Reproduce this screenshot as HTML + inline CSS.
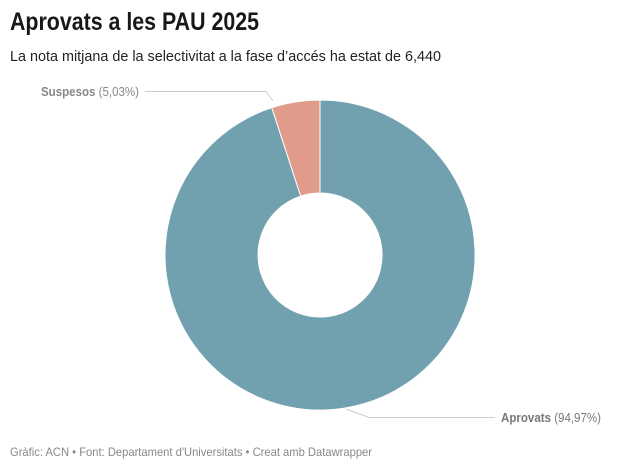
<!DOCTYPE html>
<html><head><meta charset="utf-8"><style>
html,body{margin:0;padding:0;background:#fff;width:640px;height:469px;overflow:hidden}
svg{display:block;font-family:"Liberation Sans",sans-serif}
</style></head><body>
<svg width="640" height="469" viewBox="0 0 640 469">
<text x="10" y="30" font-size="25" font-weight="bold" fill="#181818" textLength="249" lengthAdjust="spacingAndGlyphs">Aprovats a les PAU 2025</text>
<text x="10" y="61" font-size="15" fill="#222" textLength="431" lengthAdjust="spacingAndGlyphs">La nota mitjana de la selectivitat a la fase d’accés ha estat de 6,440</text>
<path d="M320,100 A155,155 0 1 1 271.8,107.7 L300.7,196.1 A62,62 0 1 0 320,193 Z" fill="#71a0ae" stroke="#fff" stroke-width="1"/>
<path d="M271.8,107.7 A155,155 0 0 1 320,100 L320,193 A62,62 0 0 0 300.7,196.1 Z" fill="#e09b8b" stroke="#fff" stroke-width="1"/>
<polyline points="145,91.5 266,91.5 273,101" fill="none" stroke="#ccc" stroke-width="1"/>
<polyline points="346,409 369,417.5 495,417.5" fill="none" stroke="#ccc" stroke-width="1"/>
<text x="41" y="96" font-size="13" fill="#888" textLength="98" lengthAdjust="spacingAndGlyphs"><tspan font-weight="bold">Suspesos</tspan> (5,03%)</text>
<text x="501" y="422" font-size="13" fill="#777" textLength="100" lengthAdjust="spacingAndGlyphs"><tspan font-weight="bold">Aprovats</tspan> (94,97%)</text>
<text x="10" y="456" font-size="12" fill="#888" textLength="362" lengthAdjust="spacingAndGlyphs">Gràfic: ACN • Font: Departament d'Universitats • Creat amb Datawrapper</text>
</svg>
</body></html>
